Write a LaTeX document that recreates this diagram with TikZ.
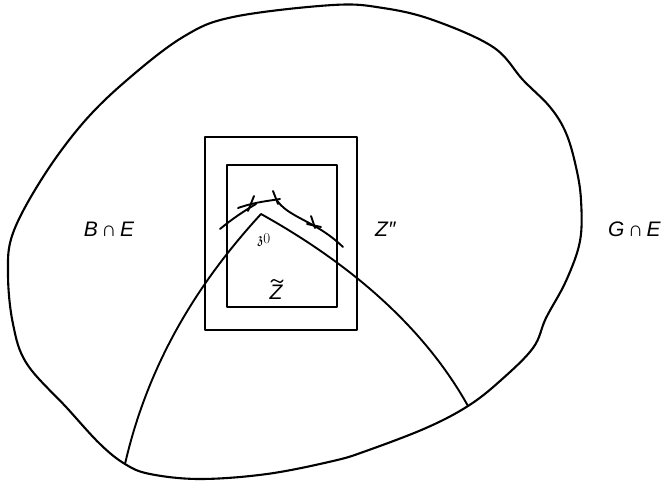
\documentclass[tikz,border=0pt]{standalone}
\usepackage{amssymb}
\usepackage{fontspec}
\newfontfamily\lab{Liberation Sans}
\begin{document}
\begin{tikzpicture}[x=1pt,y=-1pt,line join=round,line cap=round]
\tikzset{
  line/.style={line width=2.1pt},
  thin line/.style={line width=1.9pt},
  lbl/.style={font=\lab\fontsize{21}{24}\selectfont\itshape,inner sep=0pt},
}
\useasboundingbox (0,0) rectangle (666,482);
% outer region
\draw[line] plot[smooth cycle,tension=0.6] coordinates {
 (333,5) (383,8) (433,20) (493,47) (523,80) (550,107) (566,133) (576,167)
 (581,200) (580,241) (566,281) (546,318) (533,348) (500,381) (468,406)
 (426,428) (366,451) (333,461) (267,474) (200,479) (150,474) (125,464)
 (100,444) (67,408) (27,364) (13,324) (8,274) (13,233) (43,177) (83,123)
 (127,80) (183,37) (233,17)};
% boxes
\draw[line] (205,137) rectangle (357,330);
\draw[line] (227,165) rectangle (337,307);
% inner boundary curve
\coordinate (p1) at (125,464);
\coordinate (apex) at (261,214);
\coordinate (p2) at (468,406);
\draw[thin line] (p1) .. controls (150,355) and (205,275) .. (apex)
  .. controls (340,258) and (420,320) .. (p2);
% small arcs with ticks
\draw[thin line] (220,229) .. controls (232,219) and (244,211) .. (256,204);
\draw[thin line] (238,208) .. controls (255,202) and (268,201) .. (280,199);
\draw[thin line] (276,199) .. controls (288,218) and (315,220) .. (343,247);
\draw[thin line] (254,196) -- (248,211);
\draw[thin line] (273,191) -- (278,204);
\draw[thin line] (311,216) -- (315,228);
\draw[thin line] (307,224) -- (321,227);
% labels
\node[lbl] (be) at (109,229) {B\,{\upshape ∩}\,E};
\node[lbl,anchor=west] (ge) at (608,229) {G\,{\upshape ∩}\,E};
\node[lbl,anchor=west] (zpp) at (375,229) {Z″};
\node[lbl] (zt) at (276,292) {Z};
\draw[line width=1.3pt] (271,282) .. controls (273,279) and (275,279) .. (277,281)
  .. controls (279,283) and (281,283) .. (283,280);
\node[inner sep=0pt,font=\fontsize{15}{17}\selectfont] (z0) at (264,240) {$\mathfrak{z}$0};
\end{tikzpicture}
\end{document}
